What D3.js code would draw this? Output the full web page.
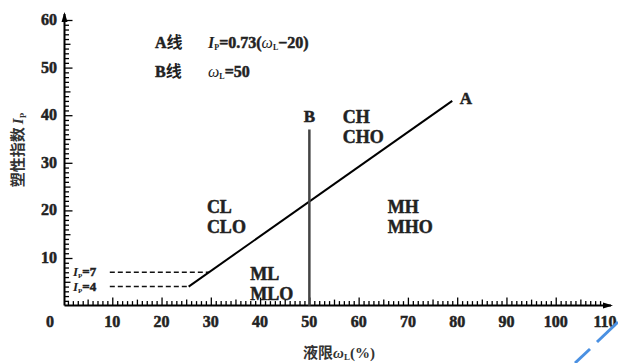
<!DOCTYPE html>
<html>
<head>
<meta charset="utf-8">
<script src="https://cdn.jsdelivr.net/npm/d3@7"></script>
<style>
  body { margin: 0; background: #fff; }
  svg { display: block; }
  svg text { font-family: "Liberation Serif", "DejaVu Serif", serif; font-weight: bold; }
  .cjk { font-family: "Noto Sans CJK SC", sans-serif; font-weight: bold; }
  .heavy { stroke: #222; stroke-width: 0.5px; }
</style>
</head>
<body>
<div id="chart"></div>
<script>
// plasticity chart data
var xTicks = [10, 20, 30, 40, 50, 60, 70, 80, 90, 100, 110];
var yTicks = [10, 20, 30, 40, 50, 60];
var aLine = [[25.5, 4], [79, 43]];          // A line: Ip = 0.73(wL - 20)
var bLine = [[50, 0], [50, 37]];            // B line: wL = 50
var ipLimits = [7, 4];                      // dashed Ip = 7, Ip = 4
var ipLimitEnds = [29.6, 25.5];             // where the dashes meet the A line
var zones = [
  { lines: ["CL", "CLO"], wl: 29.2, ip: 19.5 },
  { lines: ["CH", "CHO"], wl: 56.8, ip: 38.3 },
  { lines: ["MH", "MHO"], wl: 65.9, ip: 19.5 },
  { lines: ["ML", "MLO"], wl: 38.0, ip: 5.4 }
];

var width = 618, height = 363;
var svg = d3.select("#chart").append("svg")
  .attr("width", width)
  .attr("height", height);

var x = d3.scaleLinear().domain([0, 110]).range([63, 605]);
var y = d3.scaleLinear().domain([0, 60]).range([305.6, 20]);

var axisX = 64.5, axisY = y(0);

function tickLen(d) { return d % 10 == 0 ? 8 : (d % 5 == 0 ? 6 : 4.5); }

// Axis lines
svg.append("line")
  .attr("x1", axisX).attr("y1", axisY)
  .attr("x2", axisX).attr("y2", 14)
  .style("stroke", "#000").style("stroke-width", "2px");
svg.append("line")
  .attr("x1", axisX).attr("y1", axisY)
  .attr("x2", 611).attr("y2", axisY)
  .style("stroke", "#000").style("stroke-width", "2px");

// Minor ticks on the y axis (every 1), pointing right
var gy = svg.append("g")
  .attr("transform", "translate(" + axisX + ",0)")
  .call(d3.axisRight(y).tickValues(d3.range(1, 61)).tickSize(4).tickFormat(""));
gy.select(".domain").remove();
gy.selectAll(".tick line")
  .attr("x2", function(d) { return tickLen(d); })
  .attr("stroke", "#000")
  .attr("stroke-width", 1.3);

// Minor ticks on the x axis (every 1), pointing up
var gx = svg.append("g")
  .attr("transform", "translate(0," + axisY + ")")
  .call(d3.axisTop(x).tickValues(d3.range(1, 110)).tickSize(4).tickFormat(""));
gx.select(".domain").remove();
gx.selectAll(".tick line")
  .attr("y2", function(d) { return -tickLen(d); })
  .attr("stroke", "#000")
  .attr("stroke-width", 1.3);

// Arrow heads
svg.append("path")
  .attr("d", "M" + axisX + ",12 L" + (axisX - 3) + ",22 L" + (axisX + 3) + ",22 Z")
  .style("fill", "#000");
svg.append("path")
  .attr("d", "M613," + axisY + " L603," + (axisY - 3) + " L603," + (axisY + 3) + " Z")
  .style("fill", "#000");

// Tick labels
svg.append("g")
  .selectAll("text")
  .data(yTicks)
  .enter()
  .append("text")
  .attr("class", "heavy")
  .attr("x", 57)
  .attr("y", function(d) { return y(d) + 5; })
  .attr("text-anchor", "end")
  .attr("font-size", 16)
  .attr("fill", "#222")
  .text(function(d) { return d; });

svg.append("g")
  .selectAll("text")
  .data(xTicks)
  .enter()
  .append("text")
  .attr("class", "heavy")
  .attr("x", function(d) { return x(d); })
  .attr("y", 327)
  .attr("text-anchor", "middle")
  .attr("font-size", 16)
  .attr("fill", "#222")
  .text(function(d) { return d; });

svg.append("text")
  .attr("class", "heavy")
  .attr("x", 50).attr("y", 327)
  .attr("text-anchor", "middle")
  .attr("font-size", 16)
  .attr("fill", "#222")
  .text("0");

// Axis titles
var yt = svg.append("text")
  .attr("transform", "translate(23,150) rotate(-90)")
  .attr("text-anchor", "middle")
  .attr("font-size", 15)
  .attr("fill", "#333");
yt.append("tspan").attr("class", "cjk").attr("font-weight", "normal").text("塑性指数");
yt.append("tspan").attr("font-style", "italic").attr("dx", 3).text("I");
yt.append("tspan").attr("font-size", 9).attr("dy", 3).text("P");

var xt = svg.append("text")
  .attr("x", 303).attr("y", 358)
  .attr("font-size", 15)
  .attr("fill", "#333");
xt.append("tspan").attr("class", "cjk").attr("font-weight", "normal").text("液限");
xt.append("tspan").attr("font-style", "italic").text("ω");
xt.append("tspan").attr("font-size", 9).attr("dy", 2).text("L");
xt.append("tspan").attr("dy", -2).text("(%)");

// Legend text for the A and B lines
var l1 = svg.append("text").attr("x", 155).attr("y", 48).attr("font-size", 16).attr("fill", "#222");
l1.append("tspan").attr("class", "heavy").text("A");
l1.append("tspan").attr("class", "cjk").text("线");
l1.append("tspan").attr("x", 208).attr("font-style", "italic").text("I");
l1.append("tspan").attr("font-size", 8).attr("dy", 2).text("P");
l1.append("tspan").attr("class", "heavy").attr("dy", -2).text("=0.73(");
l1.append("tspan").attr("font-style", "italic").attr("font-weight", "normal").text("ω");
l1.append("tspan").attr("font-size", 8).attr("dy", 2).text("L");
l1.append("tspan").attr("class", "heavy").attr("dy", -2).text("−20)");

var l2 = svg.append("text").attr("x", 155).attr("y", 77).attr("font-size", 16).attr("fill", "#222");
l2.append("tspan").attr("class", "heavy").text("B");
l2.append("tspan").attr("class", "cjk").text("线");
l2.append("tspan").attr("x", 208).attr("font-style", "italic").attr("font-weight", "normal").text("ω");
l2.append("tspan").attr("font-size", 8).attr("dy", 2).text("L");
l2.append("tspan").attr("class", "heavy").attr("dy", -2).text("=50");

// Dashed Ip limit lines
svg.append("g")
  .selectAll("line")
  .data(ipLimits)
  .enter()
  .append("line")
  .attr("x1", x(9.5))
  .attr("x2", function(d, i) { return x(ipLimitEnds[i]); })
  .attr("y1", function(d) { return y(d); })
  .attr("y2", function(d) { return y(d); })
  .style("stroke", "#111")
  .style("stroke-width", "1.5px")
  .style("stroke-dasharray", "5,3");

svg.append("g")
  .selectAll("text")
  .data(ipLimits)
  .enter()
  .append("text")
  .attr("x", 73)
  .attr("y", function(d) { return y(d) + 4; })
  .attr("font-size", 13)
  .attr("fill", "#222")
  .each(function(d) {
    var t = d3.select(this);
    t.append("tspan").attr("font-style", "italic").text("I");
    t.append("tspan").attr("font-size", 7).attr("dy", 2).text("P");
    t.append("tspan").attr("class", "heavy").attr("dy", -2).text("=" + d);
  });

// A line and B line
var line = d3.line()
  .x(function(d) { return x(d[0]); })
  .y(function(d) { return y(d[1]); });

svg.append("path")
  .datum(aLine)
  .attr("d", line)
  .style("fill", "none")
  .style("stroke", "#000")
  .style("stroke-width", "2px");

svg.append("path")
  .datum(bLine)
  .attr("d", line)
  .style("fill", "none")
  .style("stroke", "#444")
  .style("stroke-width", "2.5px");

svg.append("text")
  .attr("class", "heavy")
  .attr("x", x(50)).attr("y", y(38.5))
  .attr("text-anchor", "middle")
  .attr("font-size", 17)
  .attr("fill", "#222")
  .text("B");
svg.append("text")
  .attr("class", "heavy")
  .attr("x", x(80.5)).attr("y", y(42.4))
  .attr("font-size", 17)
  .attr("fill", "#222")
  .text("A");

// Zone labels
svg.append("g")
  .selectAll("text")
  .data(zones)
  .enter()
  .append("text")
  .attr("class", "heavy")
  .attr("x", function(d) { return x(d.wl); })
  .attr("y", function(d) { return y(d.ip); })
  .attr("font-size", 18)
  .attr("fill", "#222")
  .each(function(d) {
    var t = d3.select(this);
    d.lines.forEach(function(s, i) {
      t.append("tspan").attr("x", x(d.wl)).attr("dy", i == 0 ? 0 : 20).text(s);
    });
  });

// blue watermark strokes in the corner
svg.append("line").attr("x1", 575).attr("y1", 363).attr("x2", 590).attr("y2", 349)
  .style("stroke", "#4a90e2").style("stroke-width", "3px");
svg.append("line").attr("x1", 597).attr("y1", 342).attr("x2", 618).attr("y2", 322)
  .style("stroke", "#4a90e2").style("stroke-width", "3px");
</script>
</body>
</html>
